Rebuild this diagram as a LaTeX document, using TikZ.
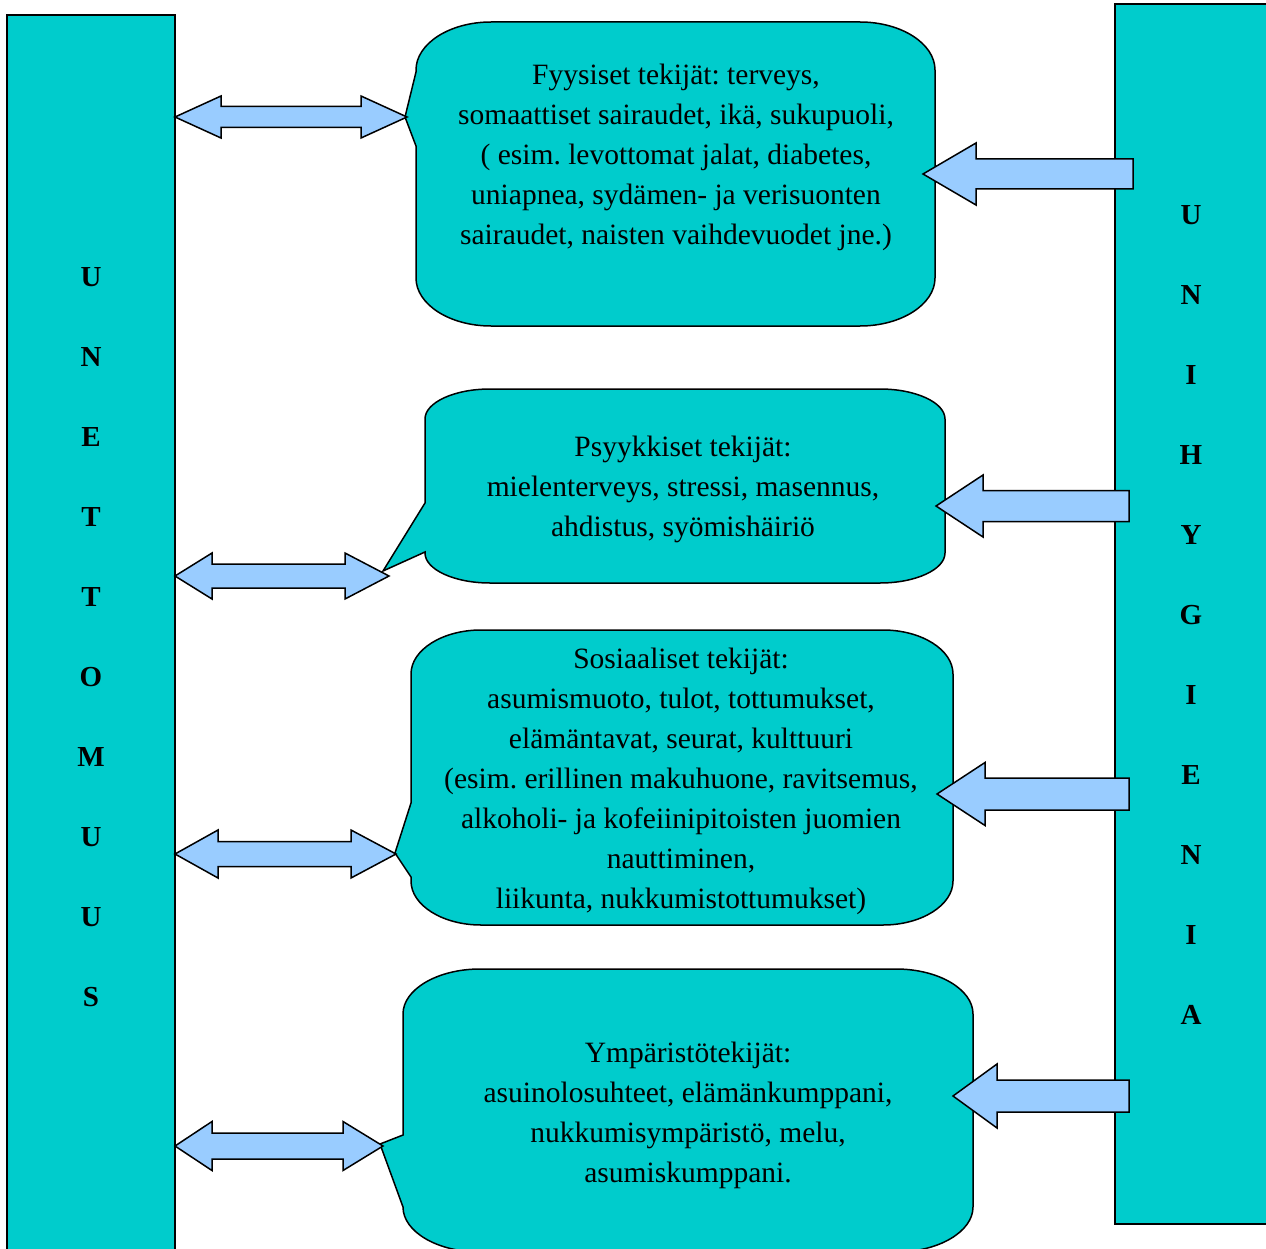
\documentclass[tikz,border=0pt]{standalone}
\usepackage{fontspec}
\setmainfont{Liberation Serif}
\frenchspacing
\begin{document}
\begin{tikzpicture}[x=1pt,y=-1pt,
  barfill/.style={fill=tealc,draw=black,line width=1.6pt},
  boxfill/.style={fill=tealc,draw=black,line width=1.5pt},
  arrowfill/.style={fill=arrowc,draw=black,line width=1.5pt,line join=miter},
  bartext/.style={font=\fontsize{29}{30}\selectfont\bfseries,inner sep=0pt},
  boxtext/.style={font=\fontsize{29.5}{40}\selectfont,align=center,inner sep=0pt}]
\definecolor{tealc}{RGB}{0,204,204}
\definecolor{arrowc}{RGB}{153,204,255}

% rounded callout: left, top, right, bottom, x radius, y radius,
% pointer start on the left edge, pointer tip, pointer end on the left edge
\newcommand\calloutbox[9]{%
  \draw[boxfill] (#1,#7) -- (#1,{#2+#6})
    .. controls (#1,{#2+0.45*#6}) and ({#1+0.45*#5},#2) .. ({#1+#5},#2)
    -- ({#3-#5},#2)
    .. controls ({#3-0.45*#5},#2) and (#3,{#2+0.45*#6}) .. (#3,{#2+#6})
    -- (#3,{#4-#6})
    .. controls (#3,{#4-0.45*#6}) and ({#3-0.45*#5},#4) .. ({#3-#5},#4)
    -- ({#1+#5},#4)
    .. controls ({#1+0.45*#5},#4) and (#1,{#4-0.45*#6}) .. (#1,{#4-#6})
    -- (#1,#9) -- #8 -- cycle;}

% two-headed block arrow: left tip, right tip, y, left head back, right head back, head half, shaft half
\newcommand\twoway[7]{%
  \draw[arrowfill] (#1,#3) -- (#4,{#3-#6}) -- (#4,{#3-#7}) -- (#5,{#3-#7})
    -- (#5,{#3-#6}) -- (#2,#3) -- (#5,{#3+#6}) -- (#5,{#3+#7})
    -- (#4,{#3+#7}) -- (#4,{#3+#6}) -- cycle;}

% one-headed block arrow pointing left: tip x, y, head back, head half, shaft half, tail x
\newcommand\oneway[6]{%
  \draw[arrowfill] (#1,#2) -- (#3,{#2-#4}) -- (#3,{#2-#5}) -- (#6,{#2-#5})
    -- (#6,{#2+#5}) -- (#3,{#2+#5}) -- (#3,{#2+#4}) -- cycle;}

\useasboundingbox (0,0) rectangle (1266,1249);
\clip (0,0) rectangle (1266,1249);

% side bars
\draw[barfill] (7,15) rectangle (175,1270);
\draw[barfill] (1115,4) rectangle (1280,1224);

\foreach \ch [count=\i from 0] in {U,N,E,T,T,O,M,U,U,S}
  \node[bartext] (left\i) at (91,{277+80*\i}) {\ch};
\foreach \ch [count=\i from 0] in {U,N,I,H,Y,G,I,E,N,I,A}
  \node[bartext] (right\i) at (1191,{215+80*\i}) {\ch};

% callouts
\calloutbox{416}{22}{935}{326}{75}{48}{72}{(405,117)}{146}
\calloutbox{425}{389}{945}{583}{65}{30}{503}{(383,571)}{552}
\calloutbox{411}{630}{953}{925}{70}{44}{803}{(395,853)}{877}
\calloutbox{403}{969}{973}{1252}{77}{45}{1135}{(380,1144)}{1207}

\node[boxtext] (fyys) at (676,157) {Fyysiset tekijät: terveys,\\somaattiset sairaudet, ikä, sukupuoli,\\( esim. levottomat jalat, diabetes,\\uniapnea, sydämen- ja verisuonten\\sairaudet, naisten vaihdevuodet jne.)};
\node[boxtext] (psyk) at (683,489) {Psyykkiset tekijät:\\mielenterveys, stressi, masennus,\\ahdistus, syömishäiriö};
\node[boxtext] (sos) at (681,781) {Sosiaaliset tekijät:\\asumismuoto, tulot, tottumukset,\\elämäntavat, seurat, kulttuuri\\(esim. erillinen makuhuone, ravitsemus,\\alkoholi- ja kofeiinipitoisten juomien\\nauttiminen,\\liikunta, nukkumistottumukset)};
\node[boxtext] (ymp) at (688,1115) {Ympäristötekijät:\\asuinolosuhteet, elämänkumppani,\\nukkumisympäristö, melu,\\asumiskumppani.};

% links between the left bar and the callouts
\twoway{175}{407}{117}{221}{361}{21}{10.5}
\twoway{175}{389}{576}{212}{345}{23}{12}
\twoway{175}{396}{854}{218}{351}{24}{12.5}
\twoway{175}{383}{1146}{212}{343}{24.5}{13}

% arrows from the right bar
\oneway{923}{174}{976}{31}{15}{1133}
\oneway{936}{506}{983}{31}{15.5}{1129}
\oneway{937}{794}{985}{31.5}{16}{1129}
\oneway{953}{1096}{997}{32}{16}{1129}
\end{tikzpicture}
\end{document}
